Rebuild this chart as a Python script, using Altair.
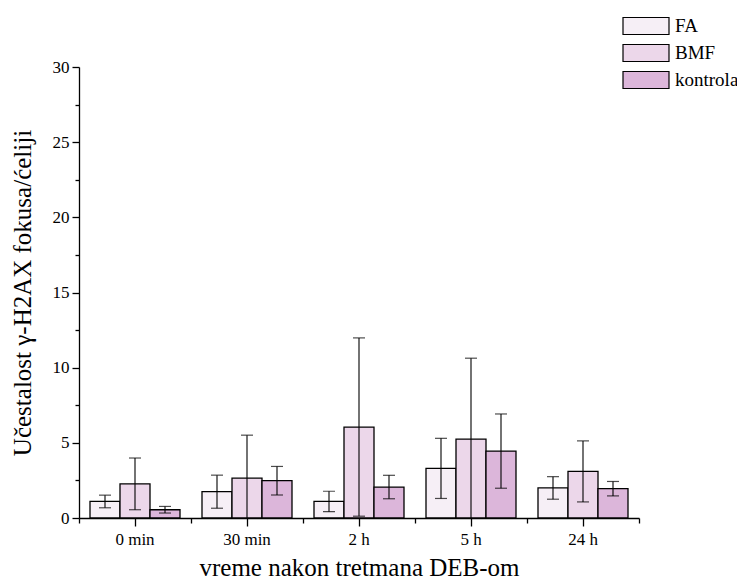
import altair as alt
import pandas as pd

categories = ["0 min", "30 min", "2 h", "5 h", "24 h"]
groups = ["FA", "BMF", "kontrola"]
fa_mean = [1.1, 1.75, 1.1, 3.3, 2.0]
fa_err = [0.42, 1.1, 0.68, 2.0, 0.75]
bmf_mean = [2.27, 2.65, 6.05, 5.25, 3.1]
bmf_err = [1.72, 2.86, 5.93, 5.38, 2.03]
kon_mean = [0.55, 2.48, 2.06, 4.45, 1.95]
kon_err = [0.22, 0.95, 0.78, 2.47, 0.48]
colors = ["#f6eff6", "#ecd7ea", "#dcb6da"]
y_major = [0, 5, 10, 15, 20, 25, 30]
y_minor = [2.5, 7.5, 12.5, 17.5, 22.5, 27.5]

rows = []
for g, means, errs in zip(groups, [fa_mean, bmf_mean, kon_mean], [fa_err, bmf_err, kon_err]):
    for c, m, e in zip(categories, means, errs):
        rows.append({"cat": c, "grp": g, "mean": m, "lo": m - e, "hi": m + e})
df = pd.DataFrame(rows)

FONT = "Liberation Serif, Times New Roman, serif"
xscale = alt.Scale(paddingInner=0, paddingOuter=0)
yscale = alt.Scale(domain=[0, 30], nice=False, zero=True)
xoff = alt.XOffset("grp:N", sort=groups,
                   scale=alt.Scale(paddingInner=0, paddingOuter=0.3667))

base = alt.Chart(df)

minor = base.mark_rule(color="black", strokeWidth=1.1, clip=True).encode(
    x=alt.X("cat:N", sort=categories, scale=xscale,
            axis=alt.Axis(title=None, labels=False, domain=False, tickBand="extent",
                          tickColor="black", tickWidth=1.3, tickSize=5, orient="bottom")),
    xOffset=xoff,
    y=alt.Y("lo:Q", scale=yscale,
            axis=alt.Axis(title=None, labels=False, domain=False, values=y_minor,
                          grid=False, tickColor="black", tickWidth=1.3, tickSize=4,
                          orient="left")),
    y2="hi:Q",
)

bars = base.mark_bar(stroke="black", strokeWidth=1.3).encode(
    x=alt.X("cat:N", sort=categories, scale=xscale,
            axis=alt.Axis(title="vreme nakon tretmana DEB-om", labelAngle=0,
                          domainColor="black", domainWidth=1.3, tickColor="black",
                          tickWidth=1.3, tickSize=8, labelPadding=5, titlePadding=8,
                          labelFont=FONT, labelFontSize=17, titleFont=FONT,
                          titleFontSize=25, titleFontWeight="normal", labelColor="black",
                          titleColor="black", orient="bottom")),
    xOffset=xoff,
    y=alt.Y("mean:Q", scale=yscale,
            axis=alt.Axis(title="Učestalost γ-H2AX fokusa/ćeliji", values=y_major,
                          grid=False, domainColor="black", domainWidth=1.3,
                          tickColor="black", tickWidth=1.3, tickSize=7, labelPadding=3,
                          titlePadding=17, labelFont=FONT, labelFontSize=17,
                          titleFont=FONT, titleFontSize=25, titleFontWeight="normal",
                          labelColor="black", titleColor="black", orient="left")),
    fill=alt.Fill("grp:N", sort=groups, scale=alt.Scale(domain=groups, range=colors),
                  legend=alt.Legend(title=None, orient="none", legendX=551, legendY=-57,
                                    symbolType="M-1.533,-0.567H1.533V0.567H-1.533Z",
                                    symbolSize=900, symbolStrokeColor="black",
                                    symbolStrokeWidth=1.2, labelFont=FONT,
                                    labelFontSize=19, labelColor="black",
                                    rowPadding=-4, labelOffset=13)),
)

cap_hi = base.mark_tick(color="black", size=12, thickness=1.2, clip=True).encode(
    x=alt.X("cat:N", sort=categories, scale=xscale, axis=None), xOffset=xoff,
    y=alt.Y("hi:Q", scale=yscale, axis=None))
cap_lo = base.mark_tick(color="black", size=12, thickness=1.2, clip=True).encode(
    x=alt.X("cat:N", sort=categories, scale=xscale, axis=None), xOffset=xoff,
    y=alt.Y("lo:Q", scale=yscale, axis=None))

chart = alt.layer(bars, minor, cap_hi, cap_lo).resolve_axis(
    x="independent", y="independent"
).properties(
    width=560, height=451,
    autosize=alt.AutoSizeParams(type="none"),
    padding={"left": 71, "top": 59, "right": 98, "bottom": 61},
).configure_view(stroke=None)

chart.save("out.html", embed_options={"renderer": "svg", "actions": False})
